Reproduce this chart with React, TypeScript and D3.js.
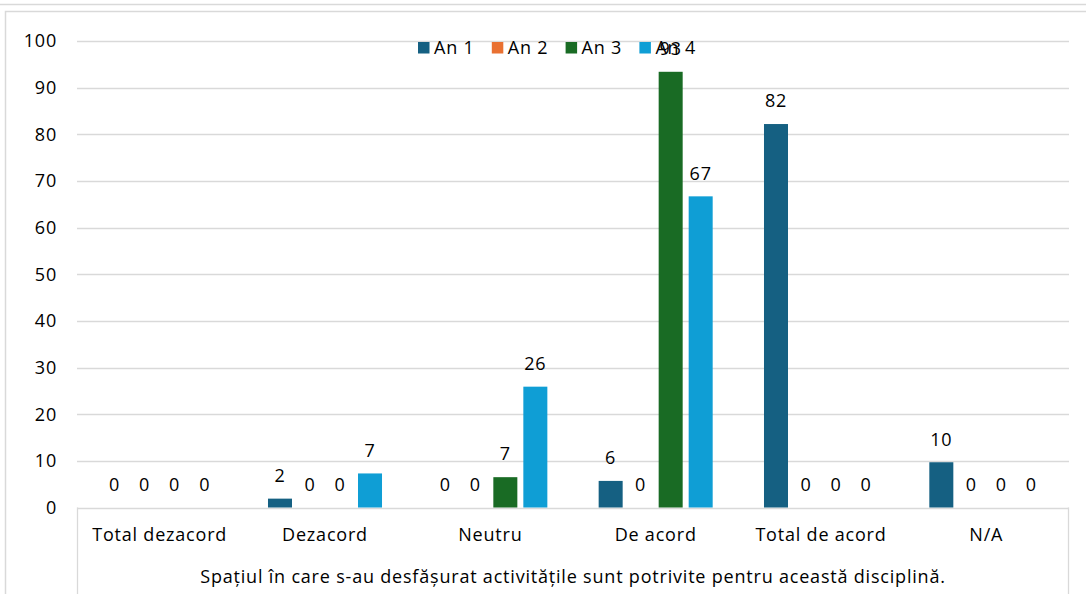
import React from 'react';
import * as d3 from 'd3';

const categories = ['Total dezacord', 'Dezacord', 'Neutru', 'De acord', 'Total de acord', 'N/A'];
const seriesNames = ['An 1', 'An 2', 'An 3', 'An 4'];
const an1 = [0, 1.9, 0, 5.7, 82.2, 9.7];
const an2 = [0, 0, 0, 0, 0, 0];
const an3 = [0, 0, 6.5, 93.4, 0, 0];
const an4 = [0, 7.3, 25.9, 66.7, 0, 0];
const yTicks = [0, 10, 20, 30, 40, 50, 60, 70, 80, 90, 100];
const axisTitle = 'Spațiul în care s-au desfășurat activitățile sunt potrivite pentru această disciplină.';

const colors = ['#156082', '#E97132', '#196B24', '#0F9ED5'];
const seriesValues = [an1, an2, an3, an4];

const W = 1086;
const H = 594;
const FONT = '"Open Sans", sans-serif';
const FS = 18;
const LS = 0.8;
const GRID = '#d9d9d9';

function App() {
    const x0 = d3.scaleBand<string>().domain(categories).range([77, 1069]).padding(0);
    const x1 = d3.scaleBand<string>()
        .domain(seriesNames)
        .range([0, x0.bandwidth()])
        .paddingInner(0.2)
        .paddingOuter(0.855);
    const y = d3.scaleLinear().domain([0, 100]).range([507.5, 41]);

    return (
        <svg width={W} height={H} style={{ position: 'absolute', left: 0, top: 0, background: '#fff' }}
            fontFamily={FONT} fontSize={FS} letterSpacing={LS}>
            <line x1={0} x2={W} y1={4.5} y2={4.5} stroke={GRID} strokeWidth={1.5} />
            <rect x={5.5} y={11.5} width={W + 20} height={H + 20} fill="#fff" stroke={GRID} strokeWidth={1.5} />

            {/* gridlines */}
            {yTicks.map(t => (
                <line key={t} x1={77} x2={1069} y1={Math.round(y(t)) + 0.5} y2={Math.round(y(t)) + 0.5}
                    stroke={GRID} strokeWidth={1.3} />
            ))}
            {yTicks.map(t => (
                <text key={'l' + t} x={57} y={y(t)} dy="0.35em" textAnchor="end" fill="#000">{t}</text>
            ))}

            {/* category axis frame */}
            <line x1={77.5} x2={77.5} y1={y(0)} y2={H} stroke={GRID} strokeWidth={1.3} />
            <line x1={1068.5} x2={1068.5} y1={y(0)} y2={H} stroke={GRID} strokeWidth={1.3} />

            {/* bars */}
            {categories.map((c, ci) => (
                <g key={c} transform={`translate(${x0(c)},0)`}>
                    {seriesNames.map((s, si) => {
                        const v = seriesValues[si][ci];
                        return v > 0 ? (
                            <rect key={s} x={x1(s) as number} y={y(v)} width={x1.bandwidth()}
                                height={y(0) - y(v)} fill={colors[si]} />
                        ) : null;
                    })}
                </g>
            ))}

            {/* legend */}
            {seriesNames.map((s, i) => (
                <g key={s} transform={`translate(${418 + i * 73.8},42)`}>
                    <rect x={0} y={0} width={11.5} height={11.5} fill={colors[i]} />
                    <text x={16} y={6} dy="0.35em" fill="#000">{s}</text>
                </g>
            ))}

            {/* data labels */}
            {categories.map((c, ci) => (
                <g key={'d' + c} transform={`translate(${x0(c)},0)`}>
                    {seriesNames.map((s, si) => {
                        const v = seriesValues[si][ci];
                        return (
                            <text key={s} x={(x1(s) as number) + x1.bandwidth() / 2} y={y(v) - 23} dy="0.35em"
                                textAnchor="middle" fill="#000">{Math.round(v)}</text>
                        );
                    })}
                </g>
            ))}

            {/* category labels */}
            {categories.map(c => (
                <text key={'c' + c} x={(x0(c) as number) + x0.bandwidth() / 2} y={535} dy="0.35em"
                    textAnchor="middle" fill="#000">{c}</text>
            ))}
            <text x={(77 + 1069) / 2} y={577} dy="0.35em" textAnchor="middle" fill="#000">{axisTitle}</text>
        </svg>
    );
}

export default App;
